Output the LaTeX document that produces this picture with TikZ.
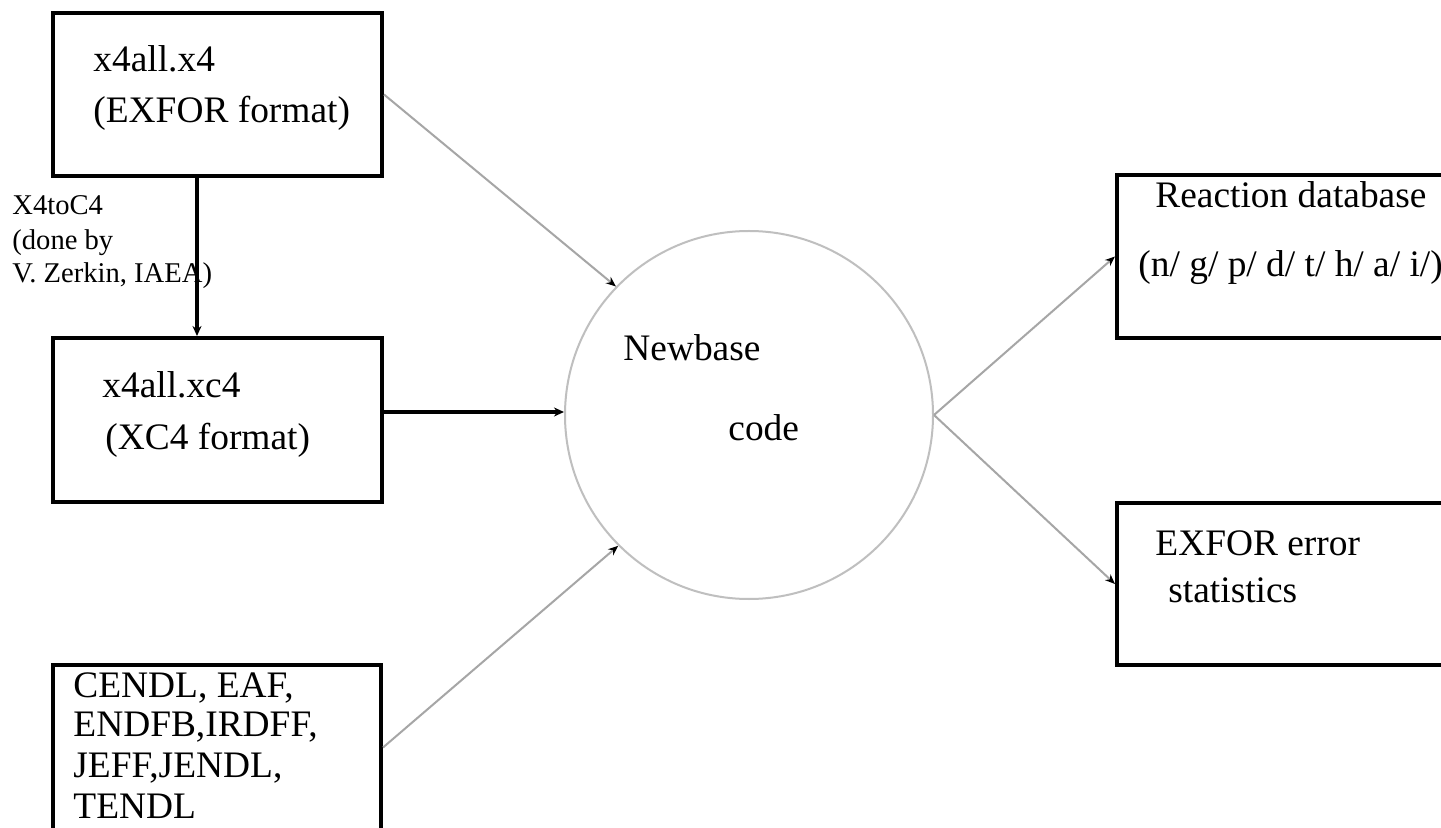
\documentclass[tikz,border=0pt]{standalone}
\usepackage{fontspec}
\setmainfont{Liberation Serif}
\usetikzlibrary{arrows.meta}
\begin{document}
\begin{tikzpicture}[x=0.5pt,y=-0.5pt,
  box/.style={draw=black,line width=2pt,inner sep=0pt,rectangle},
  txt/.style={anchor=base west,inner sep=0pt,font=\fontsize{18.7}{22}\selectfont},
  small/.style={anchor=base west,inner sep=0pt,font=\fontsize{14.3}{17}\selectfont},
  garrow/.style={draw=black!35,line width=1pt,-{Stealth[length=5pt,width=4pt,black]}},
  barrow/.style={draw=black,line width=1.6pt,-{Stealth[length=5pt,width=4.5pt]}}]
\clip (0,0) rectangle (1441,828);
\fill[white] (0,0) rectangle (1441,828);
% boxes
\node[box,minimum width=164.5pt,minimum height=81.5pt] (b1) at (217.5,94.5) {};
\node[box,minimum width=164.5pt,minimum height=82pt] (b2) at (217.5,420) {};
\node[box,minimum width=164pt,minimum height=82.5pt] (b3) at (217,747.5) {};
\node[box,minimum width=176.5pt,minimum height=81.5pt] (b4) at (1293.5,256.5) {};
\node[box,minimum width=176.5pt,minimum height=81pt] (b5) at (1293.5,584) {};
\node[circle,draw=black!25,line width=1pt,minimum size=184pt,inner sep=0pt] (nb) at (749,415) {};
% texts
\node[txt] (t1a) at (93,72) {x4all.x4};
\node[txt] (t1b) at (93,123) {(EXFOR format)};
\node[txt] (t2a) at (102,398) {x4all.xc4};
\node[txt] (t2b) at (105,450) {(XC4 format)};
\node[txt] (t3a) at (73,697) {CENDL, EAF,};
\node[txt] (t3b) at (73,736) {ENDFB,IRDFF,};
\node[txt] (t3c) at (73,777) {JEFF,JENDL,};
\node[txt] (t3d) at (73,818) {TENDL};
\node[txt] (t4a) at (1155,208) {Reaction database};
\node[txt] (t4b) at (1138,277) {(n/ g/ p/ d/ t/ h/ a/ i/)};
\node[txt] (t5a) at (1155,555) {EXFOR error};
\node[txt] (t5b) at (1168,603) {statistics};
\node[txt] (tn) at (623,361) {Newbase};
\node[txt] (tc) at (728,441) {code};
\node[small] (l1) at (12,215) {X4toC4};
\node[small] (l2) at (12,250) {(done by};
\node[small] (l3) at (12,283) {V. Zerkin, IAEA)};
% connectors
\coordinate (v) at (197,0);
\coordinate (h) at (0,412);
\draw[barrow] (b1.south -| v) -- (b2.north -| v);
\draw[barrow] (b2.east |- h) -- (nb.west |- h);
\draw[garrow] (b1.east) -- (nb.136);
\draw[garrow] (b3.east) -- (nb.225);
\draw[garrow] (nb.east) -- (b4.west);
\draw[garrow] (nb.east) -- (b5.west);
\end{tikzpicture}
\end{document}
